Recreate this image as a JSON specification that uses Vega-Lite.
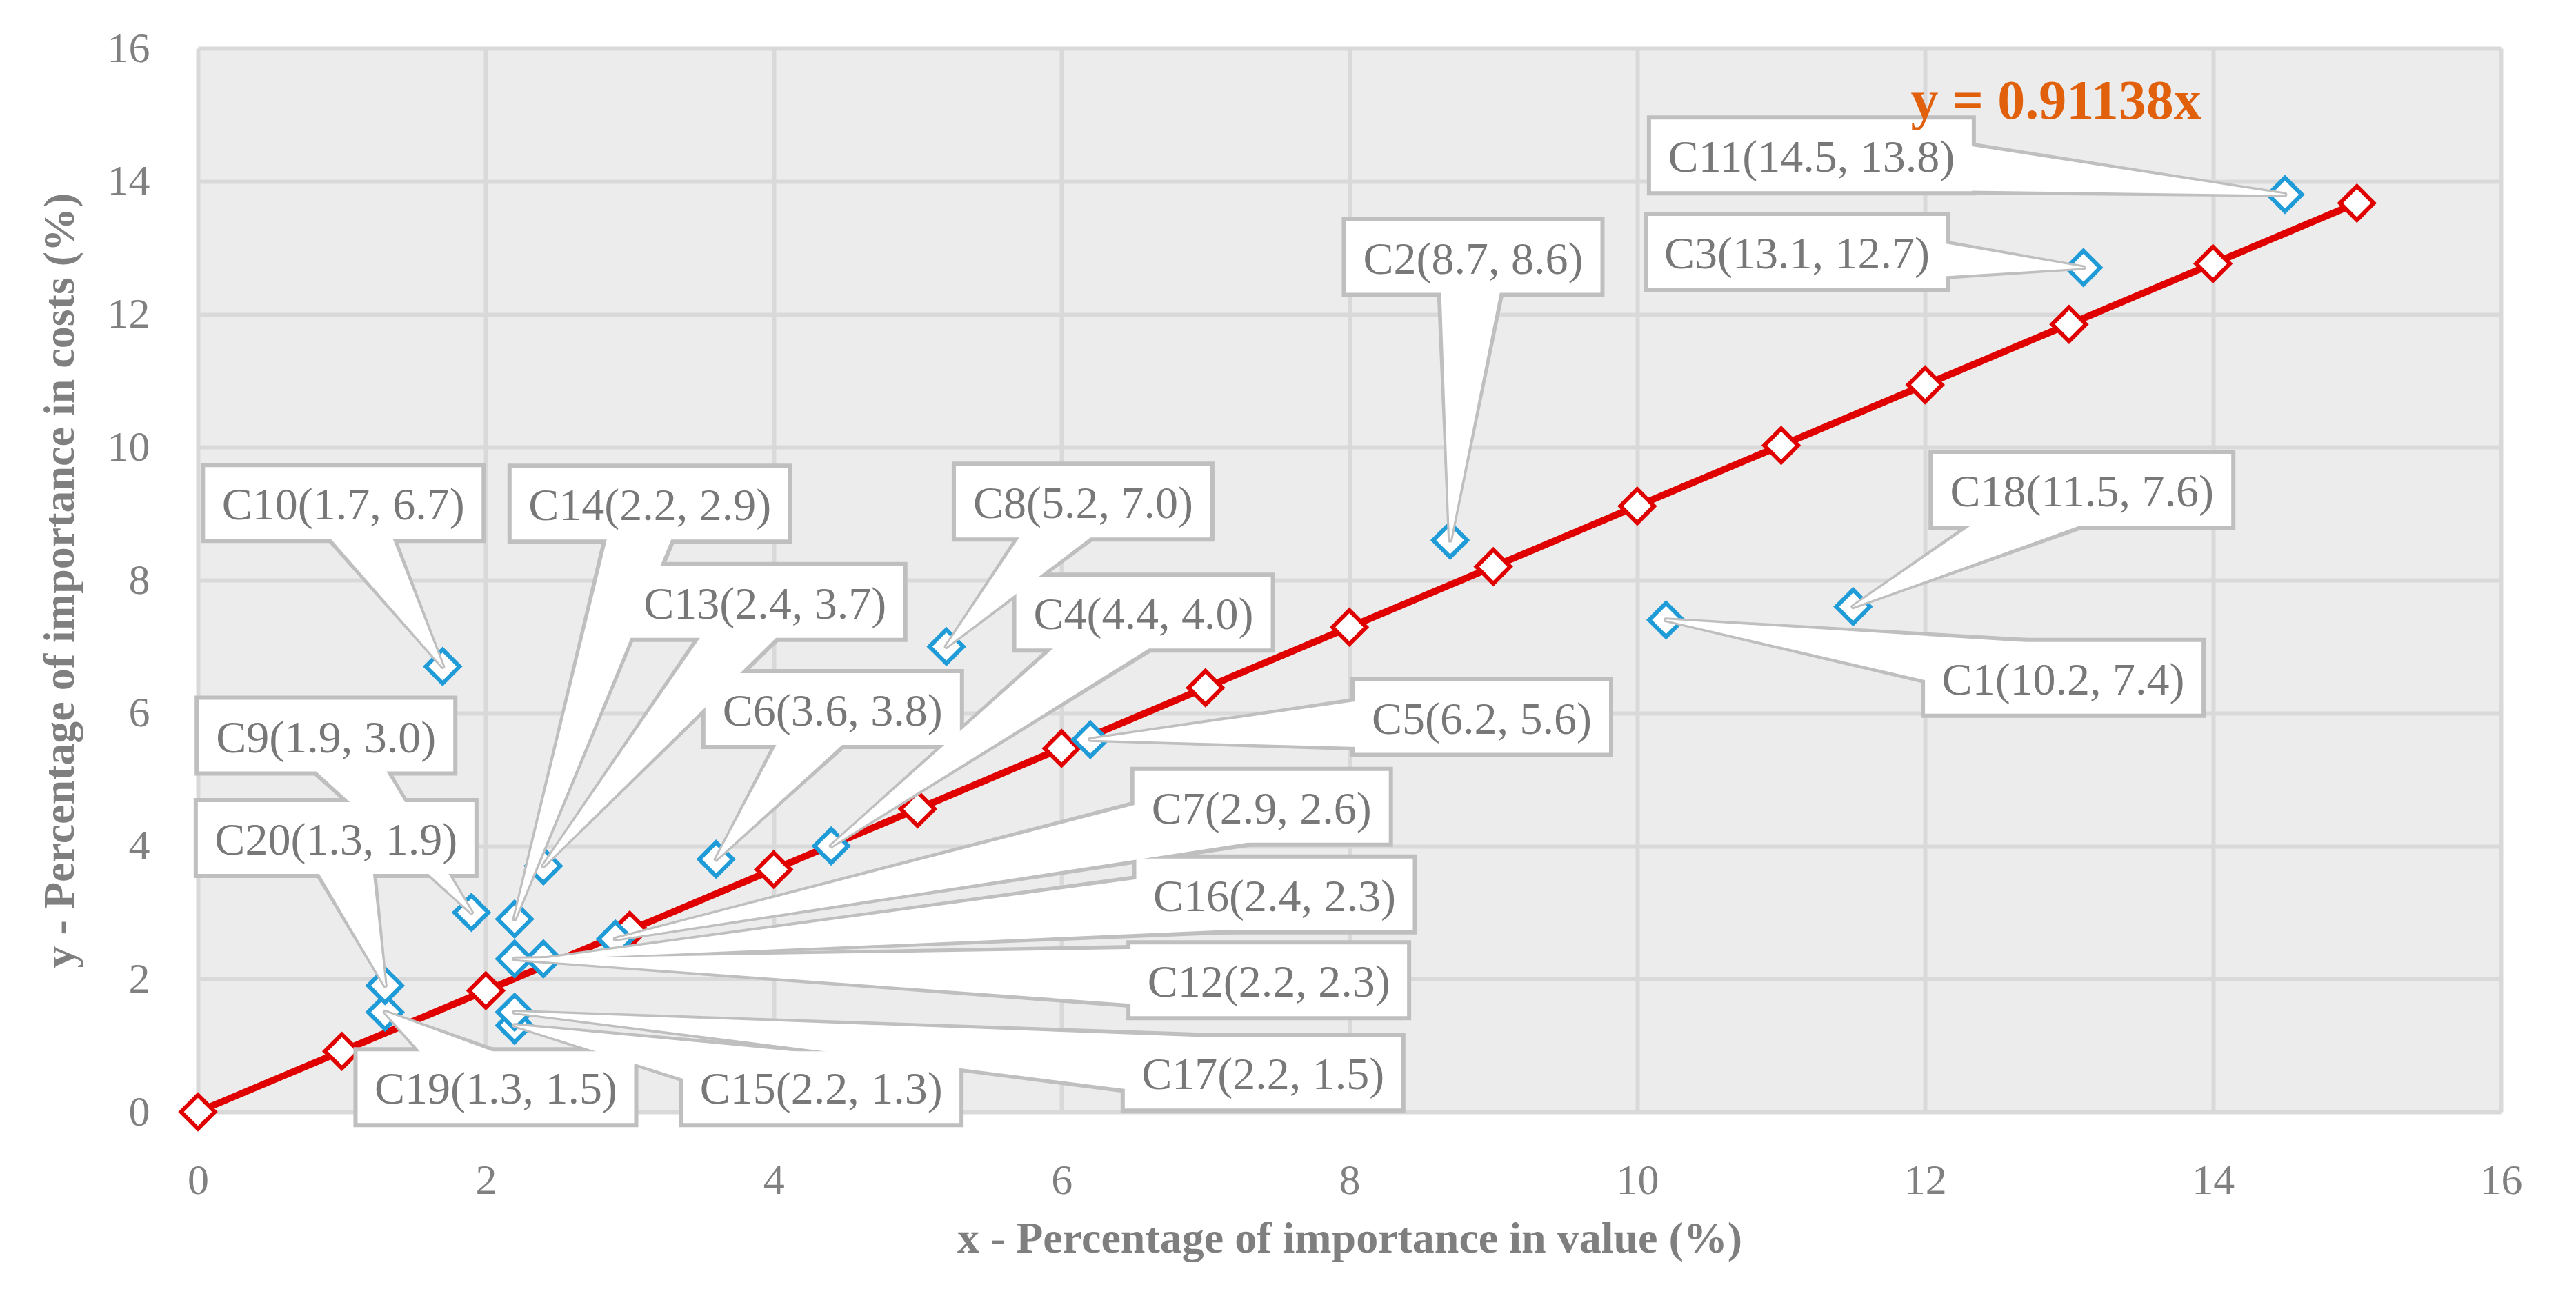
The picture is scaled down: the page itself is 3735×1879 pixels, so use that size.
{
  "$schema": "https://vega.github.io/schema/vega-lite/v6.json",
  "width": 3339,
  "height": 1542,
  "autosize": {"type": "none"},
  "padding": {"left": 287, "top": 70, "right": 109, "bottom": 267},
  "background": "white",
  "config": {
    "view": {"stroke": null, "fill": "#ececec"},
    "font": "Liberation Serif",
    "axis": {
      "grid": true,
      "gridColor": "#d9d9d9",
      "gridWidth": 6,
      "domain": false,
      "ticks": false,
      "labelFont": "Liberation Serif",
      "labelFontSize": 62,
      "labelColor": "#808080",
      "labelFlush": false,
      "labelOverlap": false,
      "titleFont": "Liberation Serif",
      "titleFontSize": 64,
      "titleFontWeight": "bold",
      "titleColor": "#7f7f7f"
    },
    "axisX": {"labelPadding": 69, "titlePadding": 22},
    "axisY": {"labelPadding": 70, "titlePadding": 36}
  },
  "datasets": {
    "fit": [
      {"x": 0, "y": 0},
      {"x": 1, "y": 0.911},
      {"x": 2, "y": 1.823},
      {"x": 3, "y": 2.734},
      {"x": 4, "y": 3.646},
      {"x": 5, "y": 4.557},
      {"x": 6, "y": 5.468},
      {"x": 7, "y": 6.380},
      {"x": 8, "y": 7.291},
      {"x": 9, "y": 8.202},
      {"x": 10, "y": 9.114},
      {"x": 11, "y": 10.025},
      {"x": 12, "y": 10.937},
      {"x": 13, "y": 11.848},
      {"x": 14, "y": 12.759},
      {"x": 15, "y": 13.671}
    ],
    "comp": [
      {"id": "C1", "x": 10.2, "y": 7.4, "lx": 12.96, "ly": 6.53, "label": "C1(10.2, 7.4)"},
      {"id": "C2", "x": 8.7, "y": 8.6, "lx": 8.86, "ly": 12.86, "label": "C2(8.7, 8.6)"},
      {"id": "C3", "x": 13.1, "y": 12.7, "lx": 11.11, "ly": 12.94, "label": "C3(13.1, 12.7)"},
      {"id": "C4", "x": 4.4, "y": 4.0, "lx": 6.57, "ly": 7.51, "label": "C4(4.4, 4.0)"},
      {"id": "C5", "x": 6.2, "y": 5.6, "lx": 8.92, "ly": 5.94, "label": "C5(6.2, 5.6)"},
      {"id": "C6", "x": 3.6, "y": 3.8, "lx": 4.41, "ly": 6.06, "label": "C6(3.6, 3.8)"},
      {"id": "C7", "x": 2.9, "y": 2.6, "lx": 7.39, "ly": 4.59, "label": "C7(2.9, 2.6)"},
      {"id": "C8", "x": 5.2, "y": 7.0, "lx": 6.15, "ly": 9.18, "label": "C8(5.2, 7.0)"},
      {"id": "C9", "x": 1.9, "y": 3.0, "lx": 0.89, "ly": 5.66, "label": "C9(1.9, 3.0)"},
      {"id": "C10", "x": 1.7, "y": 6.7, "lx": 1.01, "ly": 9.16, "label": "C10(1.7, 6.7)"},
      {"id": "C11", "x": 14.5, "y": 13.8, "lx": 11.21, "ly": 14.39, "label": "C11(14.5, 13.8)"},
      {"id": "C12", "x": 2.2, "y": 2.3, "lx": 7.44, "ly": 1.98, "label": "C12(2.2, 2.3)"},
      {"id": "C13", "x": 2.4, "y": 3.7, "lx": 3.94, "ly": 7.67, "label": "C13(2.4, 3.7)"},
      {"id": "C14", "x": 2.2, "y": 2.9, "lx": 3.14, "ly": 9.15, "label": "C14(2.2, 2.9)"},
      {"id": "C15", "x": 2.2, "y": 1.3, "lx": 4.33, "ly": 0.37, "label": "C15(2.2, 1.3)"},
      {"id": "C16", "x": 2.4, "y": 2.3, "lx": 7.48, "ly": 3.27, "label": "C16(2.4, 2.3)"},
      {"id": "C17", "x": 2.2, "y": 1.5, "lx": 7.40, "ly": 0.59, "label": "C17(2.2, 1.5)"},
      {"id": "C18", "x": 11.5, "y": 7.6, "lx": 13.09, "ly": 9.36, "label": "C18(11.5, 7.6)"},
      {"id": "C19", "x": 1.3, "y": 1.5, "lx": 2.07, "ly": 0.37, "label": "C19(1.3, 1.5)"},
      {"id": "C20", "x": 1.3, "y": 1.9, "lx": 0.96, "ly": 4.12, "label": "C20(1.3, 1.9)"}
    ],
    "eq": [
      {"x": 12.91, "y": 14.94, "text": "y = 0.91138x"}
    ]
  },
  "resolve": {"scale": {"size": "independent"}},
  "layer": [
    {
      "data": {"name": "fit"},
      "mark": {"type": "line", "color": "#e00000", "strokeWidth": 10},
      "encoding": {
        "x": {"field": "x", "type": "quantitative", "scale": {"domain": [0, 16], "nice": false, "zero": false}, "title": "x - Percentage of importance in value (%)", "axis": {"values": [0, 2, 4, 6, 8, 10, 12, 14, 16]}},
        "y": {"field": "y", "type": "quantitative", "scale": {"domain": [0, 16], "nice": false, "zero": false}, "title": "y - Percentage of importance in costs (%)", "axis": {"values": [0, 2, 4, 6, 8, 10, 12, 14, 16]}}
      }
    },
    {
      "data": {"name": "fit"},
      "mark": {"type": "point", "shape": "diamond", "filled": true, "fill": "white", "stroke": "#e00000", "strokeWidth": 6, "size": 2400, "opacity": 1},
      "encoding": {
        "x": {"field": "x", "type": "quantitative", "title": "x - Percentage of importance in value (%)", "axis": {"values": [0, 2, 4, 6, 8, 10, 12, 14, 16]}},
        "y": {"field": "y", "type": "quantitative", "title": "y - Percentage of importance in costs (%)", "axis": {"values": [0, 2, 4, 6, 8, 10, 12, 14, 16]}}
      }
    },
    {
      "data": {"name": "comp"},
      "mark": {"type": "point", "shape": "diamond", "filled": true, "fill": "white", "stroke": "#1f9bd7", "strokeWidth": 6, "size": 2400, "opacity": 1},
      "encoding": {
        "x": {"field": "x", "type": "quantitative", "title": "x - Percentage of importance in value (%)", "axis": {"values": [0, 2, 4, 6, 8, 10, 12, 14, 16]}},
        "y": {"field": "y", "type": "quantitative", "title": "y - Percentage of importance in costs (%)", "axis": {"values": [0, 2, 4, 6, 8, 10, 12, 14, 16]}}
      }
    },
    {
      "data": {"name": "comp"},
      "transform": [
        {"fold": ["x", "lx"], "as": ["kx", "px"]},
        {"fold": ["y", "ly"], "as": ["ky", "py"]},
        {"filter": "(datum.kx == 'x') == (datum.ky == 'y')"}
      ],
      "mark": {"type": "trail", "color": "#bfbfbf", "opacity": 1},
      "encoding": {
        "x": {"field": "px", "type": "quantitative", "title": "x - Percentage of importance in value (%)", "axis": {"values": [0, 2, 4, 6, 8, 10, 12, 14, 16]}},
        "y": {"field": "py", "type": "quantitative", "title": "y - Percentage of importance in costs (%)", "axis": {"values": [0, 2, 4, 6, 8, 10, 12, 14, 16]}},
        "detail": {"field": "id"},
        "size": {"field": "kx", "type": "ordinal", "scale": {"type": "point", "domain": ["x", "lx"], "range": [7, 110], "padding": 0}, "legend": null}
      }
    },
    {
      "data": {"name": "comp"},
      "mark": {"type": "rect", "fill": "white", "stroke": "#bfbfbf", "strokeWidth": 6, "width": {"expr": "32*length(datum.label)-9"}, "height": 110},
      "encoding": {
        "x": {"field": "lx", "type": "quantitative", "title": "x - Percentage of importance in value (%)", "axis": {"values": [0, 2, 4, 6, 8, 10, 12, 14, 16]}},
        "y": {"field": "ly", "type": "quantitative", "title": "y - Percentage of importance in costs (%)", "axis": {"values": [0, 2, 4, 6, 8, 10, 12, 14, 16]}}
      }
    },
    {
      "data": {"name": "comp"},
      "transform": [
        {"fold": ["x", "lx"], "as": ["kx", "px"]},
        {"fold": ["y", "ly"], "as": ["ky", "py"]},
        {"filter": "(datum.kx == 'x') == (datum.ky == 'y')"}
      ],
      "mark": {"type": "trail", "color": "#ffffff", "opacity": 1},
      "encoding": {
        "x": {"field": "px", "type": "quantitative", "title": "x - Percentage of importance in value (%)", "axis": {"values": [0, 2, 4, 6, 8, 10, 12, 14, 16]}},
        "y": {"field": "py", "type": "quantitative", "title": "y - Percentage of importance in costs (%)", "axis": {"values": [0, 2, 4, 6, 8, 10, 12, 14, 16]}},
        "detail": {"field": "id"},
        "size": {"field": "kx", "type": "ordinal", "scale": {"type": "point", "domain": ["x", "lx"], "range": [0, 97], "padding": 0}, "legend": null}
      }
    },
    {
      "data": {"name": "comp"},
      "mark": {"type": "text", "font": "Liberation Serif", "fontSize": 66, "color": "#787878", "align": "center", "baseline": "middle", "dy": 4},
      "encoding": {
        "x": {"field": "lx", "type": "quantitative", "title": "x - Percentage of importance in value (%)", "axis": {"values": [0, 2, 4, 6, 8, 10, 12, 14, 16]}},
        "y": {"field": "ly", "type": "quantitative", "title": "y - Percentage of importance in costs (%)", "axis": {"values": [0, 2, 4, 6, 8, 10, 12, 14, 16]}},
        "text": {"field": "label"}
      }
    },
    {
      "data": {"name": "eq"},
      "mark": {"type": "text", "font": "Liberation Serif", "fontSize": 80, "fontWeight": "bold", "color": "#e1600c", "align": "center", "baseline": "alphabetic"},
      "encoding": {
        "x": {"field": "x", "type": "quantitative", "title": "x - Percentage of importance in value (%)", "axis": {"values": [0, 2, 4, 6, 8, 10, 12, 14, 16]}},
        "y": {"field": "y", "type": "quantitative", "title": "y - Percentage of importance in costs (%)", "axis": {"values": [0, 2, 4, 6, 8, 10, 12, 14, 16]}},
        "text": {"field": "text"}
      }
    }
  ]
}
